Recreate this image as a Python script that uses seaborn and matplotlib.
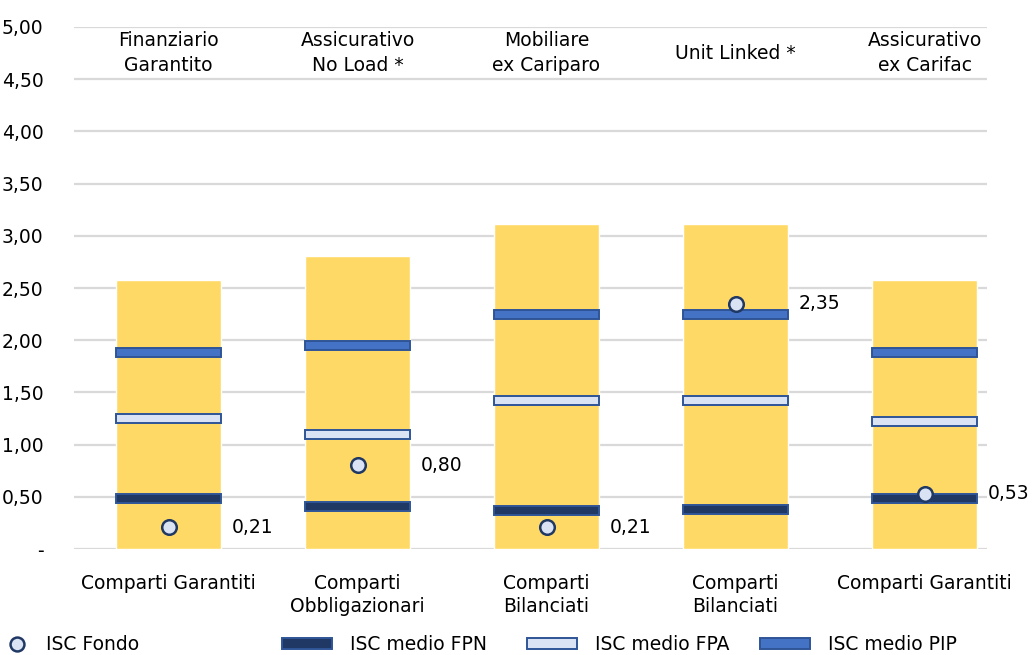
import numpy as np
import pandas as pd
import matplotlib
matplotlib.use("Agg")
import matplotlib.pyplot as plt
from matplotlib.lines import Line2D
from matplotlib.patches import Patch
import seaborn as sns

# data
fondi = ["Finanziario\nGarantito", "Assicurativo\nNo Load *", "Mobiliare\nex Cariparo",
         "Unit Linked *", "Assicurativo\nex Carifac"]
comparti = ["Comparti Garantiti", "Comparti\nObbligazionari", "Comparti\nBilanciati",
            "Comparti\nBilanciati", "Comparti Garantiti"]
isc_max = [2.58, 2.81, 3.11, 3.11, 2.58]
isc_fpn = [0.48, 0.41, 0.37, 0.38, 0.48]
isc_fpa = [1.25, 1.10, 1.42, 1.42, 1.22]
isc_pip = [1.88, 1.95, 2.25, 2.25, 1.88]
isc_fondo = [0.21, 0.80, 0.21, 2.35, 0.53]
y_ticks = [0, 0.5, 1.0, 1.5, 2.0, 2.5, 3.0, 3.5, 4.0, 4.5, 5.0]

YELLOW = "#FFD966"
NAVY = "#203864"
EDGE = "#2F5597"
LIGHT = "#DAE3F3"
BLUE = "#4472C4"
FS = 13.5

sns.set_theme(style="white")
plt.rcParams["font.family"] = ["DejaVu Sans"]
plt.rcParams["text.color"] = "black"
plt.rcParams["xtick.color"] = "black"
plt.rcParams["ytick.color"] = "black"

df = pd.DataFrame({"fondo": fondi, "max": isc_max, "fondo_val": isc_fondo})

fig = plt.figure(figsize=(10.36, 6.55), dpi=100)
ax = fig.add_axes([74 / 1036, 1 - 549 / 655, 945 / 1036, 522 / 655])

# grid lines
ax.hlines(y_ticks, -0.5, 4.33, color="#D9D9D9", lw=1.6, zorder=0)

sns.barplot(data=df, x="fondo", y="max", color=YELLOW, width=0.56,
            saturation=1, ax=ax, zorder=1)

x = np.arange(len(fondi))
h = 0.085
ax.bar(x, h, bottom=np.array(isc_fpn) - h / 2, width=0.56, color=NAVY,
       edgecolor=EDGE, lw=1.4, zorder=3)
ax.bar(x, h, bottom=np.array(isc_fpa) - h / 2, width=0.56, color=LIGHT,
       edgecolor=EDGE, lw=1.4, zorder=3)
ax.bar(x, h, bottom=np.array(isc_pip) - h / 2, width=0.56, color=BLUE,
       edgecolor=EDGE, lw=1.4, zorder=3)

sns.scatterplot(x=x, y=isc_fondo, s=110, color=LIGHT, edgecolor=NAVY,
                linewidth=1.8, ax=ax, zorder=4)

for i, v in enumerate(isc_fondo):
    ax.text(i + 0.335, v, f"{v:.2f}".replace(".", ","), ha="left", va="center",
            fontsize=FS, color="black", clip_on=False)

for i, name in enumerate(fondi):
    ax.text(i, 4.75, name, ha="center", va="center", fontsize=FS,
            linespacing=1.35, color="black")

ax.set_xlim(-0.5, 4.5)
ax.set_ylim(0, 5)
ax.set_yticks(y_ticks)
ax.set_yticklabels(["-" if t == 0 else f"{t:.2f}".replace(".", ",") for t in y_ticks],
                   fontsize=FS)
ax.set_xticks(x)
ax.set_xticklabels(comparti, fontsize=FS, linespacing=1.3)
ax.tick_params(axis="y", length=0, pad=22)
ax.tick_params(axis="x", length=0, pad=18)
ax.set_xlabel("")
ax.set_ylabel("")
for s in ax.spines.values():
    s.set_visible(False)

# legend, one item per legend so they sit where the reference has them
items = [
    (Line2D([], [], marker="o", ls="", ms=10, mfc=LIGHT, mec=NAVY, mew=1.8),
     "ISC Fondo", 8 / 1036, 1.0),
    (Patch(facecolor=NAVY, edgecolor=EDGE, lw=1.4), "ISC medio FPN", 282 / 1036, 2.65),
    (Patch(facecolor=LIGHT, edgecolor=EDGE, lw=1.4), "ISC medio FPA", 527 / 1036, 2.65),
    (Patch(facecolor=BLUE, edgecolor=EDGE, lw=1.4), "ISC medio PIP", 760 / 1036, 2.65),
]
for handle, label, xpos, hl in items:
    leg = fig.legend([handle], [label], loc="center left", bbox_to_anchor=(xpos, 0.016),
                     frameon=False, fontsize=FS, handlelength=hl, handleheight=0.55,
                     handletextpad=1.0, borderpad=0, borderaxespad=0)

fig.savefig("out.png", dpi=100)
